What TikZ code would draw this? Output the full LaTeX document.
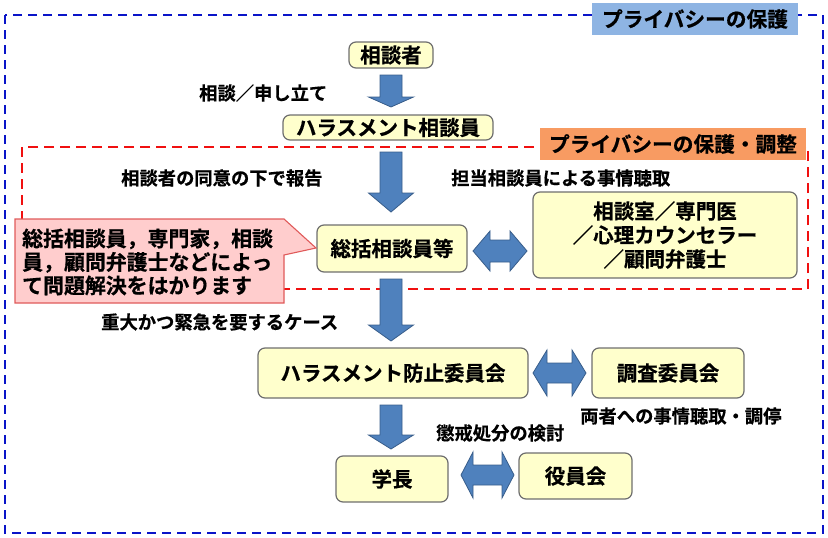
\documentclass[tikz,border=0pt]{standalone}
\usepackage{fontspec}
\setmainfont{Noto Sans CJK JP}[BoldFont={Noto Sans CJK JP Bold}, BoldFeatures={FakeBold=0.6}]
\definecolor{nodefill}{HTML}{FFFFCC}
\definecolor{nodeline}{HTML}{6E6E6E}
\definecolor{arrfill}{HTML}{4F81BD}
\definecolor{arrline}{HTML}{385D8A}
\definecolor{bluelab}{HTML}{8EB4E3}
\definecolor{orangelab}{HTML}{F89B62}
\definecolor{pinkfill}{HTML}{FFCDCD}
\definecolor{pinkline}{HTML}{E05A5A}
\definecolor{bluedash}{HTML}{0A14C8}
\definecolor{reddash}{HTML}{F01010}
\tikzset{
  box/.style={draw=nodeline, fill=nodefill, line width=1.2pt, rounded corners=7pt,
    align=center, inner sep=0pt, font=\bfseries\fontsize{20.5}{24}\selectfont},
  lbl/.style={anchor=west, inner sep=0pt, font=\bfseries\fontsize{18.3}{22}\selectfont},
  blockarr/.style={fill=arrfill, draw=arrline, line width=0.8pt, line join=miter},
  tag/.style={inner sep=0pt, font=\bfseries\fontsize{20.7}{24}\selectfont}
}
\newcommand\DownArr[4]{% cx, top, headbase, tip
  \filldraw[blockarr] (#1-11,#2) -- (#1+11,#2) -- (#1+11,#3) -- (#1+22.5,#3) -- (#1,#4)
    -- (#1-22.5,#3) -- (#1-11,#3) -- cycle;}
\newcommand\DblArr[6]{% x1, x2, cy, headlen, shaft half, head half
  \filldraw[blockarr] (#1,#3) -- (#1+#4,#3-#6) -- (#1+#4,#3-#5) -- (#2-#4,#3-#5)
    -- (#2-#4,#3-#6) -- (#2,#3) -- (#2-#4,#3+#6) -- (#2-#4,#3+#5) -- (#1+#4,#3+#5)
    -- (#1+#4,#3+#6) -- cycle;}
\begin{document}
\begin{tikzpicture}[x=1pt,y=-1pt]
\useasboundingbox (0,0) rectangle (828,538);
% outer blue dashed frame
\draw[bluedash, line width=2.8pt, dash pattern=on 9pt off 6pt] (5,15) rectangle (823,533);
% red dashed frame
\draw[reddash, line width=2.8pt, dash pattern=on 10pt off 6pt] (22,147) rectangle (808,289);
% labels of frames
\node[tag, fill=bluelab, minimum width=206pt, minimum height=32pt] (privacy) at (695,19) {プライバシーの保護};
\node[tag, fill=orangelab, minimum width=266pt, minimum height=32pt] (privadj) at (673,144) {プライバシーの保護・調整};

% nodes
\node[box, minimum width=84pt, minimum height=26pt] (sodansha) at (391,55) {相談者};
\node[box, minimum width=210pt, minimum height=25pt] (hsoudan) at (388,127.5) {ハラスメント相談員};
\node[box, minimum width=150pt, minimum height=47pt] (soukatsu) at (392,248.5) {総括相談員等};
\node[box, minimum width=264pt, minimum height=86pt] (senmon) at (665,235) {相談室／専門医\\／心理カウンセラー\\／顧問弁護士};
\node[box, minimum width=270pt, minimum height=50pt] (boushi) at (393,373) {ハラスメント防止委員会};
\node[box, minimum width=152pt, minimum height=50pt] (chousa) at (668,373) {調査委員会};
\node[box, minimum width=112pt, minimum height=46pt] (gakucho) at (392,479) {学長};
\node[box, minimum width=113pt, minimum height=46pt] (yakuin) at (575.5,476) {役員会};

% callout
\filldraw[fill=pinkfill, draw=pinkline, line width=1.1pt, line join=miter]
  (15,219) -- (284,219) -- (316,248) -- (284,255) -- (284,303) -- (15,303) -- cycle;
\node[anchor=west, align=left, inner sep=0pt, font=\bfseries\fontsize{20.9}{23.5}\selectfont] (callout) at (22,262)
  {総括相談員，専門家，相談\\員，顧問弁護士などによっ\\て問題解決をはかります};

% block arrows
\DownArr{391}{75}{97}{107}
\DownArr{391}{152}{193}{212}
\DownArr{391}{279}{325}{341}
\DownArr{391}{405}{435}{449}
\DblArr{473}{527}{251}{17}{11}{20}
\DblArr{533}{586}{373}{14}{10}{23}
\DblArr{461}{514}{475}{12}{10}{23}

% arrow labels
\node[lbl] (l1) at (199,93) {相談／申し立て};
\node[lbl] (l2) at (121,178) {相談者の同意の下で報告};
\node[lbl] (l3) at (451,178) {担当相談員による事情聴取};
\node[lbl] (l4) at (101,322) {重大かつ緊急を要するケース};
\node[lbl] (l5) at (580,416) {両者への事情聴取・調停};
\node[lbl] (l6) at (436,433) {懲戒処分の検討};
\end{tikzpicture}
\end{document}
